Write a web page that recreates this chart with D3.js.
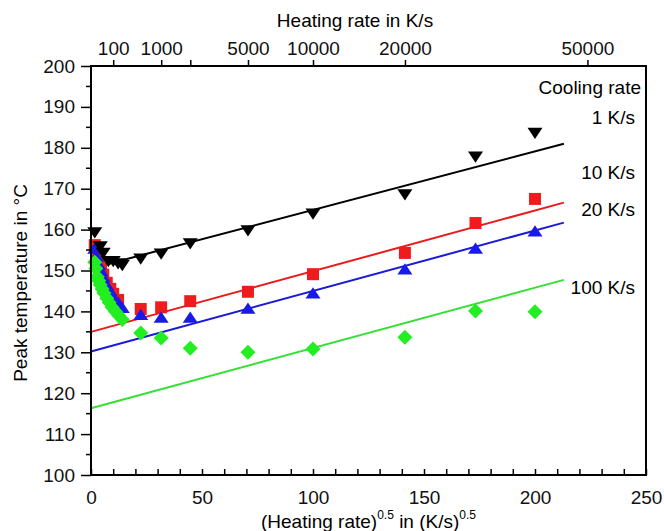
<!DOCTYPE html>
<html>
<head>
<meta charset="utf-8">
<script src="https://cdn.jsdelivr.net/npm/d3@7"></script>
<style>
  body { margin: 0; background: #fff; }
  svg { display: block; font-family: "Liberation Sans", Arial, Helvetica, sans-serif; }
</style>
</head>
<body>
<svg id="svgx"></svg>
<script>
// ************************************* data
// x = sqrt(heating rate) in (K/s)^0.5, T = peak temperature in °C
const blackX = [1.7, 4.2, 5.5, 7.8, 10, 12.2, 14.1, 22.4, 31.6, 44.7, 70.7, 100, 141.4, 173.2, 200];
const blackT = [159.2, 155.8, 154.2, 152.2, 152.2, 151.6, 151.2, 152.8, 154.0, 156.5, 159.7, 163.8, 168.5, 177.7, 183.5];

const redX = [1.7, 2.5, 3.5, 4.5, 5.5, 7.1, 8.7, 10, 12.2, 22.4, 31.6, 44.7, 70.7, 100, 141.4, 173.2, 200];
const redT = [156.2, 154.0, 152.0, 150.5, 149.0, 147.0, 145.5, 144.3, 142.8, 140.6, 141.0, 142.5, 144.8, 149.1, 154.3, 161.6, 167.5];

const blueX = [1.7, 2.5, 3.5, 4.5, 5.5, 7.1, 8.7, 10, 12.2, 14.1, 22.4, 31.6, 44.7, 70.7, 100, 141.4, 173.2, 200];
const blueT = [155.5, 153.5, 151.5, 150.0, 148.5, 146.5, 145.0, 143.5, 142.3, 141.0, 139.3, 138.6, 138.6, 140.8, 144.5, 150.4, 155.5, 159.7];

const greenX = [1.7, 2.2, 2.8, 3.5, 4.1, 5.0, 5.8, 7.1, 8.2, 9.5, 11, 12.5, 14.1, 22.4, 31.6, 44.7, 70.7, 100, 141.4, 173.2, 200];
const greenT = [152.0, 150.5, 148.5, 147.5, 146.5, 145.5, 144.5, 143.2, 142.2, 141.0, 140.0, 139.0, 138.0, 134.7, 133.5, 131.0, 130.0, 130.8, 133.7, 140.1, 139.9];

// linear fits: temperature at x = 0 and at x = fitEnd
const fitEnd = 213;
const fitStartT = { black: 150.5, red: 135.0, blue: 130.2, green: 116.3 };
const fitEndT = { black: 181.0, red: 166.6, blue: 161.7, green: 147.7 };

const seriesKeys = ["red", "blue", "green", "black"];   // drawing order
const coolingLabels = ["1 K/s", "10 K/s", "20 K/s", "100 K/s"];

// top axis: heating rate in K/s (placed at its square root)
const topTickRates = [100, 1000, 2000, 5000, 10000, 20000, 50000];
const topTickLabels = ["100", "1000", "", "5000", "10000", "20000", "50000"];

// ************************************* layout
const widthA = 664, heightA = 531;
const margin = { top: 66, right: 18, bottom: 56, left: 91 };
const fontsize = 19;

const svg = d3.select('#svgx')
  .attr("width", widthA)
  .attr("height", heightA);

const xScale = d3.scaleLinear().domain([0, 250]).range([margin.left, widthA - margin.right]);
const yScale = d3.scaleLinear().domain([100, 200]).range([heightA - margin.bottom, margin.top]);

const colors = { black: "#000000", red: "#ee1c1c", blue: "#1a1ae8", green: "#22ee22" };
const lineColors = { black: "#000000", red: "#e81c1c", blue: "#1a1ad8", green: "#33e033" };

const series = {
  black: d3.zip(blackX, blackT),
  red: d3.zip(redX, redT),
  blue: d3.zip(blueX, blueT),
  green: d3.zip(greenX, greenT)
};

// ************************************* symbols
const downTriangle = s => `M 0 ${s * 0.75} L ${s} ${-s * 0.75} L ${-s} ${-s * 0.75} Z`;
const upTriangle = s => `M 0 ${-s * 0.75} L ${s} ${s * 0.75} L ${-s} ${s * 0.75} Z`;
const square = s => `M ${-s} ${-s} H ${s} V ${s} H ${-s} Z`;
const diamond = s => `M 0 ${-s} L ${s} 0 L 0 ${s} L ${-s} 0 Z`;
const symbolFor = { black: downTriangle(7.5), red: square(6), blue: upTriangle(7.5), green: diamond(7.5) };

// ************************************* fit lines
svg.append("g").attr("class", "fits")
  .selectAll("line")
  .data(seriesKeys)
  .enter()
  .append("line")
  .attr("x1", xScale(0))
  .attr("y1", d => yScale(fitStartT[d]))
  .attr("x2", xScale(fitEnd))
  .attr("y2", d => yScale(fitEndT[d]))
  .attr("stroke", d => lineColors[d])
  .attr("stroke-width", 2);

// ************************************* points
seriesKeys.forEach(key => {
  svg.append("g")
    .attr("class", "pts-" + key)
    .selectAll("path")
    .data(series[key])
    .enter()
    .append("path")
    .attr("d", symbolFor[key])
    .attr("transform", d => `translate(${xScale(d[0])},${yScale(d[1])})`)
    .style("fill", colors[key]);
});

// ************************************* axes
const bottomY = heightA - margin.bottom;

// bottom axis, ticks inside
const xAxisG = svg.append("g")
  .attr("transform", `translate(0,${bottomY})`)
  .call(d3.axisBottom(xScale).tickValues(d3.range(0, 251, 10)).tickSize(-6).tickPadding(12)
    .tickFormat(d => d % 50 === 0 ? d : ""));
xAxisG.selectAll('text').style('font-size', fontsize).attr("dy", "0.9em");
xAxisG.selectAll('.tick line').attr("stroke-width", 1.5);
xAxisG.select('.domain').remove();

// left axis, ticks outside
const yAxisG = svg.append("g")
  .attr("transform", `translate(${margin.left},0)`)
  .call(d3.axisLeft(yScale).tickValues(d3.range(100, 201, 10)).tickSize(10).tickPadding(6));
yAxisG.selectAll('text').style('font-size', fontsize);
yAxisG.selectAll('.tick line').attr("stroke-width", 1.5);
yAxisG.select('.domain').remove();

svg.append("g")
  .attr("transform", `translate(${margin.left},0)`)
  .selectAll("line")
  .data(d3.range(105, 200, 10))
  .enter()
  .append("line")
  .attr("x1", -5).attr("x2", 0)
  .attr("y1", d => yScale(d)).attr("y2", d => yScale(d))
  .attr("stroke", "#000").attr("stroke-width", 1.5);

// top axis: heating rate
const topAxisG = svg.append("g")
  .attr("transform", `translate(0,${margin.top})`)
  .call(d3.axisTop(xScale).tickValues(topTickRates.map(r => Math.sqrt(r))).tickSize(6).tickPadding(5)
    .tickFormat((d, i) => topTickLabels[i]));
topAxisG.selectAll('text').style('font-size', fontsize);
topAxisG.selectAll('.tick line').attr("stroke-width", 1.5);
topAxisG.select('.domain').remove();

// frame
svg.append("rect")
  .attr("x", margin.left)
  .attr("y", margin.top)
  .attr("width", widthA - margin.left - margin.right)
  .attr("height", heightA - margin.top - margin.bottom)
  .attr("fill", "none")
  .attr("stroke", "#000")
  .attr("stroke-width", 2);

svg.selectAll(".tick text").attr("fill", "#111");

// ************************************* axis titles
svg.append("text")
  .attr("x", 355)
  .attr("y", 27)
  .attr("text-anchor", "middle")
  .style("font-size", fontsize)
  .text("Heating rate in K/s");

svg.append("text")
  .attr("transform", `translate(27,${283}) rotate(-90)`)
  .attr("text-anchor", "middle")
  .style("font-size", fontsize)
  .text("Peak temperature in \u00B0C");

const xt = svg.append("text")
  .attr("x", (margin.left + widthA - margin.right) / 2)
  .attr("y", 528)
  .attr("text-anchor", "middle")
  .style("font-size", fontsize);
xt.append("tspan").text("(Heating rate)");
xt.append("tspan").attr("dy", -9).style("font-size", 12).text("0.5");
xt.append("tspan").attr("dy", 9).text(" in (K/s)");
xt.append("tspan").attr("dy", -9).style("font-size", 12).text("0.5");

// ************************************* cooling rate labels
svg.append("text")
  .attr("x", 641)
  .attr("y", 94)
  .attr("text-anchor", "end")
  .style("font-size", fontsize)
  .text("Cooling rate");

const labelY = [124, 179, 216, 294];
svg.selectAll(".coolLab")
  .data(coolingLabels)
  .enter()
  .append("text")
  .attr("class", "coolLab")
  .attr("x", 635)
  .attr("y", (d, i) => labelY[i])
  .attr("text-anchor", "end")
  .style("font-size", fontsize)
  .text(d => d);
</script>
</body>
</html>
